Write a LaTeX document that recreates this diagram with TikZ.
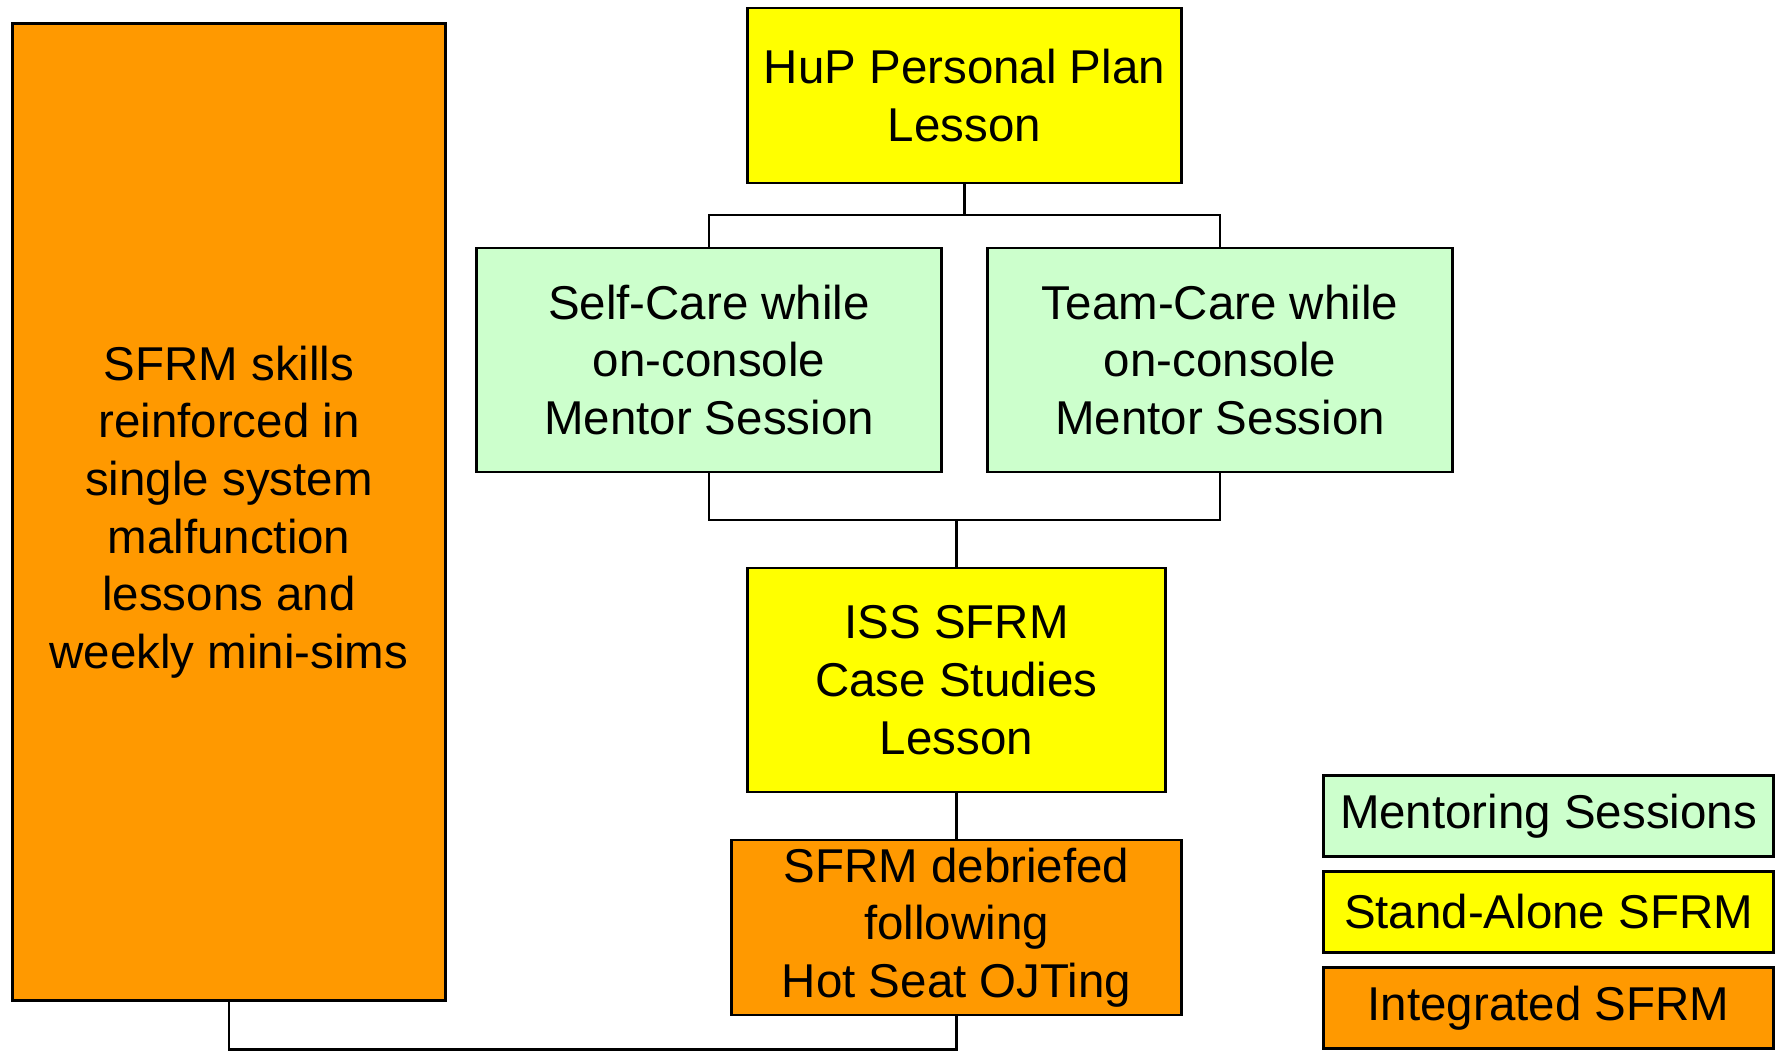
\documentclass[tikz,border=0pt]{standalone}
\usepackage{fontspec}
\setmainfont{Liberation Sans}
\usetikzlibrary{positioning}
\usetikzlibrary{calc}
\definecolor{sforange}{HTML}{FF9900}
\definecolor{sfyellow}{HTML}{FFFF00}
\definecolor{sfgreen}{HTML}{CCFFCC}
\tikzset{
    box/.style={draw=black, line width=0.8pt, align=center, inner sep=0pt,
        font=\fontsize{13.5}{16.4}\selectfont},
    mentor/.style={box, fill=sfgreen},
    alone/.style={box, fill=sfyellow},
    integ/.style={box, fill=sforange},
    link/.style={draw=black, line width=0.8pt},
}
\begin{document}
\begin{tikzpicture}[x=0.01cm,y=-0.01cm]
	\useasboundingbox (0,0) rectangle (1775,1050);
	% left column
	\node[integ, minimum width=4.32cm, minimum height=9.77cm] (skills) at (229,512)
		{SFRM skills\\reinforced in\\single system\\malfunction\\lessons and\\weekly mini-sims};
	% main chain
	\node[alone, minimum width=4.33cm, minimum height=1.75cm] (plan) at (964.5,95.5)
		{HuP Personal Plan\\Lesson};
	\node[mentor, minimum width=4.64cm, minimum height=2.24cm] (self) at (709,360)
		{Self-Care while\\on-console\\Mentor Session};
	\node[mentor, minimum width=4.64cm, minimum height=2.24cm] (team) at (1220,360)
		{Team-Care while\\on-console\\Mentor Session};
	\node[alone, minimum width=4.17cm, minimum height=2.24cm] (iss) at (956.5,680)
		{ISS SFRM\\Case Studies\\Lesson};
	\node[integ, minimum width=4.49cm, minimum height=1.75cm] (debrief) at (956.5,927.5)
		{SFRM debriefed\\following\\Hot Seat OJTing};
	% legend
	\node[mentor, minimum width=4.49cm, minimum height=0.81cm] (keyment) at (1548.5,816) {Mentoring Sessions};
	\node[alone, minimum width=4.49cm, minimum height=0.81cm] (keyalone) at (1548.5,912) {Stand-Alone SFRM};
	\node[integ, minimum width=4.49cm, minimum height=0.81cm] (keyinteg) at (1548.5,1008) {Integrated SFRM};

	\coordinate (split) at (plan.south |- 0,215);
	\coordinate (merge) at (iss.north |- 0,520);
	\draw[link] (plan.south) -- (split);
	\draw[link] (self.north) |- (split) -| (team.north);
	\draw[link] (self.south) |- (merge) -| (team.south);
	\draw[link] (merge) -- (iss.north);
	\draw[link] (iss.south) -- (debrief.north);
	\draw[link] (skills.south) -- ++(0,47) -| (debrief.south);
\end{tikzpicture}
\end{document}
